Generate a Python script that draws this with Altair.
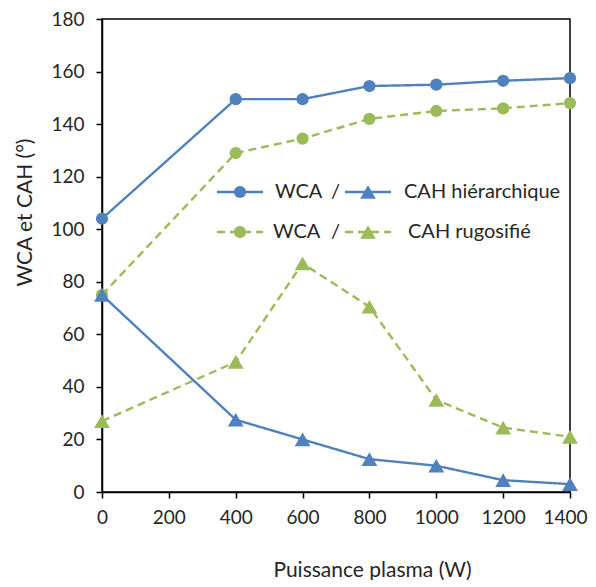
import altair as alt
import pandas as pd

power = [0, 400, 600, 800, 1000, 1200, 1400]
wca_hier = [104, 149.5, 149.5, 154.5, 155, 156.5, 157.5]
cah_hier = [75, 27.5, 20, 12.5, 10, 4.5, 3]
wca_rug = [75, 129, 134.5, 142, 145, 146, 148]
cah_rug = [27, 49.5, 87, 70.5, 35, 24.5, 21]

x_ticks = [0, 200, 400, 600, 800, 1000, 1200, 1400]
y_ticks = [0, 20, 40, 60, 80, 100, 120, 140, 160, 180]

BLUE = "#4F81BD"
GREEN = "#9BBB59"
FONT = "Lato"
TXT = "#262626"
CIRC, TRI = 150, 250

rows = []
for name, meas, surf, vals in [
    ("WCA rugosifié", "WCA", "rugosifié", wca_rug),
    ("CAH rugosifié", "CAH", "rugosifié", cah_rug),
    ("WCA hiérarchique", "WCA", "hiérarchique", wca_hier),
    ("CAH hiérarchique", "CAH", "hiérarchique", cah_hier),
]:
    for i, (p, v) in enumerate(zip(power, vals)):
        rows.append({"key": name, "measure": meas, "surface": surf, "power": p, "value": v, "order": i})
df = pd.DataFrame(rows)

W, H = 468, 473
last = x_ticks[-1]

xenc = alt.X("power:Q", scale=alt.Scale(domain=[0, 1400], nice=False),
             axis=alt.Axis(values=x_ticks, format="d", labelOverlap=False, labelFlush=False,
                           labelAlign={"condition": {"test": f"datum.value === {last}", "value": "right"}, "value": "center"},
                           labelOffset={"condition": {"test": f"datum.value === {last}", "value": 17}, "value": 0},
                           title="Puissance plasma (W)", grid=False,
                           titleX=270, titleY=78, titleBaseline="middle", titleAlign="center",
                           titleAnchor="start", labelPadding=10))
yenc = alt.Y("value:Q", scale=alt.Scale(domain=[0, 180], nice=False),
             axis=alt.Axis(values=y_ticks, format="d", labelOverlap=False, labelFlush=False,
                           title="WCA et CAH (°)", grid=False,
                           titleX=-77, titleY=193, titleBaseline="middle", titleAlign="center",
                           titleAnchor="start", labelPadding=12))

col = alt.Color("surface:N", scale=alt.Scale(domain=["hiérarchique", "rugosifié"], range=[BLUE, GREEN]), legend=None)
dash = alt.StrokeDash("surface:N", scale=alt.Scale(domain=["hiérarchique", "rugosifié"], range=[[1, 0], [8, 5]]), legend=None)
shp = alt.Shape("measure:N", scale=alt.Scale(domain=["WCA", "CAH"], range=["circle", "triangle-up"]), legend=None)
siz = alt.Size("measure:N", scale=alt.Scale(domain=["WCA", "CAH"], range=[CIRC, TRI]), legend=None)

base = alt.Chart(df)
lines = base.mark_line(strokeWidth=2.4).encode(x=xenc, y=yenc, color=col, strokeDash=dash, detail="key:N", order="order:Q")
points = base.mark_point(filled=True, opacity=1).encode(x=xenc, y=yenc, color=col, shape=shp, size=siz)

dummy = alt.Chart(pd.DataFrame({"a": [0]}))

def seg(x1, x2, y, color, dashed):
    kw = dict(strokeWidth=2.4, color=color)
    if dashed:
        kw["strokeDash"] = [8, 5]
    return dummy.mark_rule(**kw).encode(x=alt.value(x1), x2=alt.value(x2), y=alt.value(y))

def sym(x, y, shape, color, size):
    return dummy.mark_point(filled=True, opacity=1, size=size, shape=shape, color=color).encode(
        x=alt.value(x), y=alt.value(y))

def txt(x, y, t):
    return dummy.mark_text(text=t, align="left", baseline="middle", font=FONT, fontSize=20, color=TXT).encode(
        x=alt.value(x), y=alt.value(y))

OX, OY = 102, 19
r1, r2 = 192 - OY, 232 - OY
legend = [
    seg(217 - OX, 263 - OX, r1, BLUE, False), sym(240 - OX, r1, "circle", BLUE, CIRC),
    txt(275 - OX, r1, "WCA"), txt(331 - OX, r1, "/"),
    seg(345 - OX, 391 - OX, r1, BLUE, False), sym(368 - OX, r1, "triangle-up", BLUE, TRI),
    txt(404 - OX, r1, "CAH hiérarchique"),
    seg(217 - OX, 263 - OX, r2, GREEN, True), sym(240 - OX, r2, "circle", GREEN, CIRC),
    txt(273 - OX, r2, "WCA"), txt(331 - OX, r2, "/"),
    seg(345 - OX, 391 - OX, r2, GREEN, True), sym(368 - OX, r2, "triangle-up", GREEN, TRI),
    txt(408 - OX, r2, "CAH rugosifié"),
]

chart = alt.layer(lines, points, *legend).properties(
    width=W, height=H,
    autosize=alt.AutoSizeParams(type="none"),
    padding={"left": 94, "top": 11, "right": 18, "bottom": 88},
).configure_view(stroke="black", strokeWidth=1.5).configure_axis(
    domainColor="black", domainWidth=1.5, tickColor="black", tickWidth=1.5, tickSize=6,
    labelFont=FONT, labelFontSize=19, labelColor=TXT,
    titleFont=FONT, titleFontSize=21, titleFontWeight="normal", titleColor=TXT,
)

chart.save("out.html", embed_options={"renderer": "svg", "actions": False})
